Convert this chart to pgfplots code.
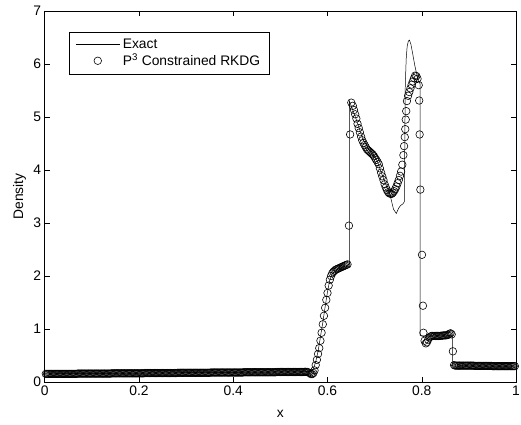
\documentclass[border=0pt]{standalone}
\usepackage{fontspec}
\setmainfont{Liberation Sans}
\usepackage{pgfplots}
\pgfplotsset{compat=1.18}
\begin{document}
\begin{tikzpicture}
\useasboundingbox (-45bp,-43bp) rectangle (480bp,385bp);
\begin{axis}[
  at={(0,0)}, anchor=south west,
  scale only axis,
  width=475bp, height=374bp,
  xmin=0, xmax=1, ymin=0, ymax=7,
  xtick={0,0.2,0.4,0.6,0.8,1},
  ytick={0,1,2,3,4,5,6,7},
  xticklabels={0,0.2,0.4,0.6,0.8,1},
  major tick length=5bp,
  tick align=inside,
  axis line style={line width=0.6pt},
  every tick/.style={line width=0.5pt, black},
  /pgf/number format/assume math mode=true,
  tick label style={font=\fontsize{14}{16}\selectfont},
  label style={font=\fontsize{14}{16}\selectfont},
  xlabel={x}, ylabel={Density},
  xlabel style={at={(axis description cs:0.5,-0.0856)}, anchor=center},
  ylabel style={at={(axis description cs:-0.0324,0.5)}, anchor=south},
  legend image code/.code={\draw[mark repeat=2,mark phase=2,#1] plot coordinates {(0bp,0bp) (22bp,0bp) (44bp,0bp)};},
  legend style={at={(0.0526,0.9439)}, anchor=north west, draw=black, line width=0.6pt,
    font=\fontsize{14}{16}\selectfont, row sep=1.6bp, inner xsep=6bp, inner ysep=5bp,
    nodes={inner xsep=3bp, inner ysep=1.5bp}},
  legend cell align=left,
]
\addplot[black, line width=0.5pt] coordinates {
(0,0.155) (0.55,0.195) (0.565,0.20) (0.57,0.25) (0.575,0.38) (0.58,0.58) (0.585,0.85) (0.59,1.12) (0.595,1.42) (0.60,1.70) (0.605,1.93) (0.61,2.04) (0.62,2.12) (0.63,2.16) (0.6465,2.22)
(0.6465,5.30) (0.66,4.98) (0.675,4.58) (0.69,4.36) (0.705,4.18) (0.715,3.93) (0.725,3.70) (0.733,3.52) (0.740,3.26) (0.746,3.18) (0.751,3.28) (0.755,3.33) (0.760,3.36) (0.763,3.40)
(0.764,4.50) (0.765,5.60) (0.767,6.10) (0.769,6.33) (0.7715,6.43) (0.774,6.45) (0.777,6.37) (0.781,6.18) (0.785,5.98) (0.789,5.82) (0.793,5.70) (0.7965,5.62)
(0.7965,0.88) (0.80,0.87) (0.865,0.87) (0.865,0.30) (1,0.30)
};
\addlegendentry{Exact}
\addplot[black, only marks, mark=o, mark size=3.8bp, mark options={line width=0.6pt}] coordinates {
(0.0025,0.155) (0.0075,0.155) (0.0125,0.155) (0.0175,0.155) (0.0225,0.155) (0.0275,0.155) (0.0325,0.155) (0.0375,0.155) (0.0425,0.155) (0.0475,0.155)
(0.0525,0.155) (0.0575,0.155) (0.0625,0.155) (0.0675,0.155) (0.0725,0.160) (0.0775,0.160) (0.0825,0.160) (0.0875,0.160) (0.0925,0.160) (0.0975,0.160)
(0.1025,0.160) (0.1075,0.160) (0.1125,0.160) (0.1175,0.160) (0.1225,0.160) (0.1275,0.160) (0.1325,0.160) (0.1375,0.160) (0.1425,0.165) (0.1475,0.165)
(0.1525,0.165) (0.1575,0.165) (0.1625,0.165) (0.1675,0.165) (0.1725,0.165) (0.1775,0.165) (0.1825,0.165) (0.1875,0.165) (0.1925,0.165) (0.1975,0.165)
(0.2025,0.165) (0.2075,0.165) (0.2125,0.170) (0.2175,0.170) (0.2225,0.170) (0.2275,0.170) (0.2325,0.170) (0.2375,0.170) (0.2425,0.170) (0.2475,0.170)
(0.2525,0.170) (0.2575,0.170) (0.2625,0.170) (0.2675,0.170) (0.2725,0.170) (0.2775,0.170) (0.2825,0.175) (0.2875,0.175) (0.2925,0.175) (0.2975,0.175)
(0.3025,0.175) (0.3075,0.175) (0.3125,0.175) (0.3175,0.175) (0.3225,0.175) (0.3275,0.175) (0.3325,0.175) (0.3375,0.175) (0.3425,0.175) (0.3475,0.175)
(0.3525,0.180) (0.3575,0.180) (0.3625,0.180) (0.3675,0.180) (0.3725,0.180) (0.3775,0.180) (0.3825,0.180) (0.3875,0.180) (0.3925,0.180) (0.3975,0.180)
(0.4025,0.180) (0.4075,0.180) (0.4125,0.180) (0.4175,0.180) (0.4225,0.185) (0.4275,0.185) (0.4325,0.185) (0.4375,0.185) (0.4425,0.185) (0.4475,0.185)
(0.4525,0.185) (0.4575,0.185) (0.4625,0.185) (0.4675,0.185) (0.4725,0.185) (0.4775,0.185) (0.4825,0.185) (0.4875,0.185) (0.4925,0.190) (0.4975,0.190)
(0.5025,0.190) (0.5075,0.190) (0.5125,0.190) (0.5175,0.190) (0.5225,0.190) (0.5275,0.190) (0.5325,0.190) (0.5375,0.190) (0.5425,0.190) (0.5475,0.190)
(0.5525,0.195) (0.5575,0.190)
(0.005,0.155) (0.010,0.155) (0.015,0.155) (0.020,0.155) (0.025,0.155) (0.030,0.155) (0.035,0.155) (0.040,0.155) (0.045,0.155) (0.050,0.155)
(0.055,0.155) (0.060,0.155) (0.065,0.155) (0.070,0.160) (0.075,0.160) (0.080,0.160) (0.085,0.160) (0.090,0.160) (0.095,0.160) (0.100,0.160)
(0.105,0.160) (0.110,0.160) (0.115,0.160) (0.120,0.160) (0.125,0.160) (0.130,0.160) (0.135,0.160) (0.140,0.160) (0.145,0.165) (0.150,0.165)
(0.155,0.165) (0.160,0.165) (0.165,0.165) (0.170,0.165) (0.175,0.165) (0.180,0.165) (0.185,0.165) (0.190,0.165) (0.195,0.165) (0.200,0.165)
(0.205,0.165) (0.210,0.165) (0.215,0.170) (0.220,0.170) (0.225,0.170) (0.230,0.170) (0.235,0.170) (0.240,0.170) (0.245,0.170) (0.250,0.170)
(0.255,0.170) (0.260,0.170) (0.265,0.170) (0.270,0.170) (0.275,0.170) (0.280,0.170) (0.285,0.175) (0.290,0.175) (0.295,0.175) (0.300,0.175)
(0.305,0.175) (0.310,0.175) (0.315,0.175) (0.320,0.175) (0.325,0.175) (0.330,0.175) (0.335,0.175) (0.340,0.175) (0.345,0.175) (0.350,0.175)
(0.355,0.180) (0.360,0.180) (0.365,0.180) (0.370,0.180) (0.375,0.180) (0.380,0.180) (0.385,0.180) (0.390,0.180) (0.395,0.180) (0.400,0.180)
(0.405,0.180) (0.410,0.180) (0.415,0.180) (0.420,0.180) (0.425,0.185) (0.430,0.185) (0.435,0.185) (0.440,0.185) (0.445,0.185) (0.450,0.185)
(0.455,0.185) (0.460,0.185) (0.465,0.185) (0.470,0.185) (0.475,0.185) (0.480,0.185) (0.485,0.185) (0.490,0.185) (0.495,0.190) (0.500,0.190)
(0.505,0.190) (0.510,0.190) (0.515,0.190) (0.520,0.190) (0.525,0.190) (0.530,0.190) (0.535,0.190) (0.540,0.190) (0.545,0.190) (0.550,0.190)
(0.555,0.190)
(0.5600,0.18) (0.5625,0.17) (0.5650,0.15) (0.5675,0.15) (0.5700,0.17) (0.5725,0.22) (0.5750,0.32) (0.5775,0.42) (0.5800,0.53) (0.5825,0.64)
(0.5850,0.78) (0.5875,0.93) (0.5900,1.09) (0.5925,1.25) (0.5950,1.40) (0.5975,1.55) (0.6000,1.68) (0.6025,1.82) (0.6050,1.93) (0.6075,2.00)
(0.6100,2.05) (0.6125,2.08) (0.6150,2.10) (0.6175,2.12) (0.6200,2.13) (0.6225,2.14) (0.6250,2.15) (0.6275,2.16) (0.6300,2.17) (0.6325,2.18)
(0.6350,2.19) (0.6375,2.20) (0.6400,2.21) (0.6425,2.22) (0.6455,2.95) (0.6480,4.67) (0.6505,5.27)
(0.65375,5.21) (0.65625,5.13) (0.65875,5.05) (0.66125,4.97) (0.66375,4.87) (0.66625,4.79) (0.66875,4.71) (0.67125,4.63) (0.67375,4.56) (0.67625,4.51)
(0.67875,4.47) (0.68125,4.43) (0.68375,4.39) (0.68625,4.37) (0.68875,4.35) (0.69125,4.33) (0.69375,4.31) (0.69625,4.29) (0.69875,4.26) (0.70125,4.22)
(0.70375,4.19) (0.70625,4.15) (0.70875,4.11) (0.71125,4.03) (0.71375,3.95) (0.71625,3.88) (0.71875,3.81) (0.72125,3.73) (0.72375,3.67) (0.72625,3.62)
(0.72875,3.58) (0.73125,3.56) (0.73375,3.55) (0.73625,3.55) (0.73875,3.57) (0.74125,3.60) (0.74375,3.64) (0.74625,3.69) (0.74875,3.75) (0.75125,3.81)
(0.75375,3.89) (0.75625,3.97) (0.75875,4.10) (0.7610,4.28) (0.7625,4.45) (0.7640,4.62) (0.7650,4.77) (0.7660,4.95) (0.7670,5.11) (0.7685,5.30)
(0.7710,5.40) (0.7735,5.47) (0.7760,5.54) (0.7785,5.61) (0.7810,5.67) (0.7835,5.73) (0.7860,5.78) (0.7885,5.77) (0.7910,5.72) (0.7935,5.60)
(0.7945,5.31) (0.7955,4.67) (0.7970,3.63) (0.8005,2.40) (0.8025,1.44) (0.8035,0.93)
(0.8060,0.78) (0.8085,0.73) (0.8110,0.75) (0.8135,0.80) (0.8160,0.84) (0.8185,0.86)
(0.8210,0.87) (0.8235,0.87) (0.8260,0.87) (0.8285,0.87) (0.8310,0.87) (0.8335,0.87) (0.8360,0.87) (0.8385,0.87) (0.8410,0.875) (0.8435,0.875)
(0.8460,0.88) (0.8485,0.88) (0.8510,0.88) (0.8535,0.885) (0.8560,0.89) (0.8585,0.91) (0.8610,0.92) (0.8635,0.90) (0.8660,0.58) (0.8685,0.32)
(0.8710,0.31) (0.8735,0.31) (0.8760,0.31) (0.8800,0.31) (0.8850,0.31) (0.8900,0.31) (0.8950,0.31) (0.9000,0.31) (0.9050,0.31) (0.9100,0.31)
(0.9150,0.305) (0.9200,0.305) (0.9250,0.305) (0.9300,0.305) (0.9350,0.305) (0.9400,0.305) (0.9450,0.305) (0.9500,0.30) (0.9550,0.30) (0.9600,0.30)
(0.9650,0.30) (0.9700,0.30) (0.9750,0.30) (0.9800,0.30) (0.9850,0.30) (0.9900,0.30) (0.9950,0.30) (0.9975,0.30)
(0.8785,0.31) (0.8825,0.31) (0.8875,0.31) (0.8925,0.31) (0.8975,0.31) (0.9025,0.31) (0.9075,0.31) (0.9125,0.305) (0.9175,0.305) (0.9225,0.305)
(0.9275,0.305) (0.9325,0.305) (0.9375,0.305) (0.9425,0.305) (0.9475,0.305) (0.9525,0.30) (0.9575,0.30) (0.9625,0.30) (0.9675,0.30) (0.9725,0.30)
(0.9775,0.30) (0.9825,0.30) (0.9875,0.30) (0.9925,0.30)
};
\addlegendentry{P\textsuperscript{3} Constrained RKDG}
\end{axis}
\end{tikzpicture}
\end{document}
